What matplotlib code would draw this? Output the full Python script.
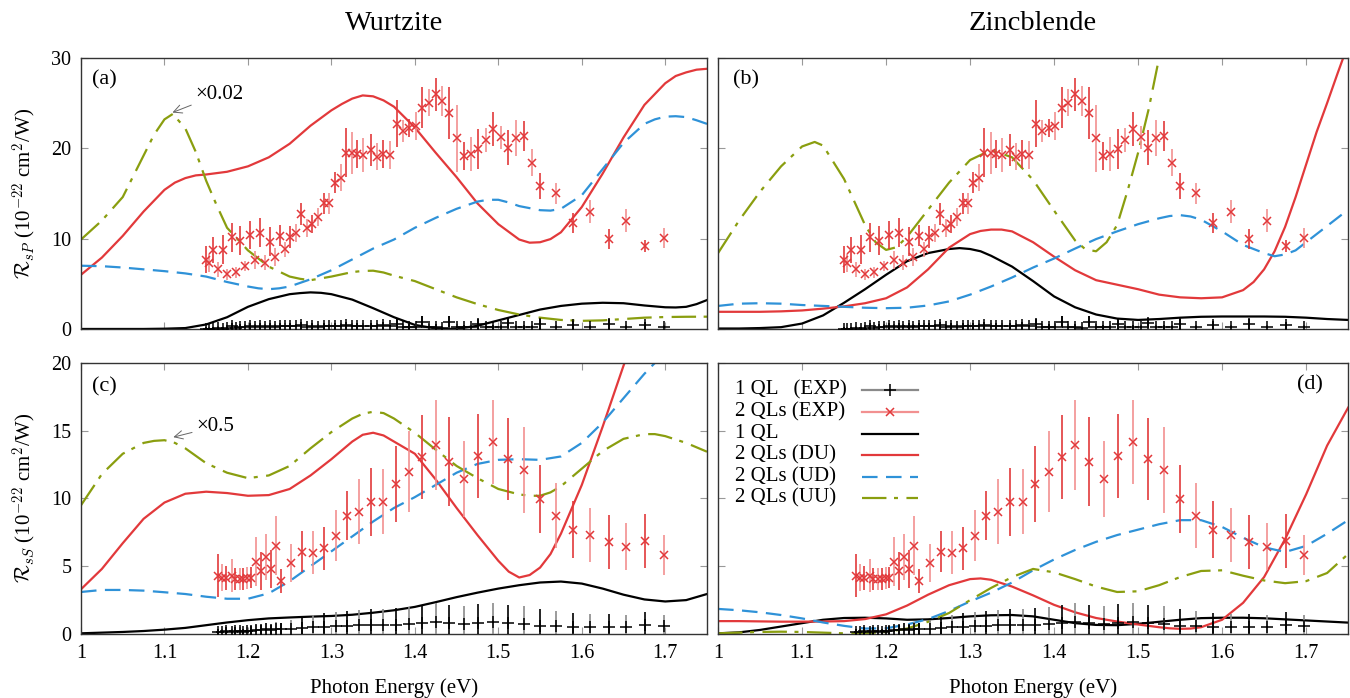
import numpy as np
import matplotlib
matplotlib.use("Agg")
import matplotlib.pyplot as plt
from matplotlib.lines import Line2D

plt.rcParams['font.family'] = ['Liberation Serif', 'DejaVu Serif']
plt.rcParams['mathtext.fontset'] = 'cm'

# ---------------- experimental data ----------------
x_exp_top = [1.1495, 1.153, 1.1586, 1.164, 1.170, 1.175, 1.181, 1.186, 1.191, 1.197,
             1.203, 1.209, 1.215, 1.220, 1.227, 1.232, 1.239, 1.245, 1.251, 1.258,
             1.264, 1.271, 1.277, 1.284, 1.291, 1.297, 1.304, 1.311, 1.317, 1.3245,
             1.331, 1.338, 1.347, 1.355, 1.362, 1.370, 1.378, 1.386, 1.3935, 1.401,
             1.409, 1.417, 1.425, 1.433, 1.441, 1.450, 1.4587, 1.467, 1.476, 1.485,
             1.494, 1.503, 1.512, 1.521, 1.531, 1.540, 1.550, 1.569, 1.589, 1.610,
             1.632, 1.653, 1.676, 1.698]
sp_2ql = [7.64, 7.3, 8.75, 6.6, 8.75, 6.05, 10.15, 6.27, 9.78, 6.97,
          10.4, 7.64, 10.66, 7.34, 9.67, 8.0, 10.33, 8.82, 10.15, 10.66,
          12.7, 11.15, 11.6, 12.37, 13.9, 13.9, 16.2, 16.75, 19.5, 19.5,
          19.37, 19.26, 19.8, 19.07, 19.37, 19.26, 22.7, 21.95, 22.2, 22.47,
          24.5, 25.05, 25.98, 25.24, 23.88, 21.1, 19.15, 19.37, 19.9, 20.9,
          22.1, 21.2, 20.07, 21.1, 21.37, 18.4, 15.83, 15.0, 11.77, 13.0,
          9.96, 12.0, 9.22, 10.1]
sp_2ql_err = [1.5, 1.0, 1.4, 0.8, 1.6, 0.6, 1.6, 0.6, 1.6, 0.6,
              1.6, 1.0, 1.6, 0.8, 1.6, 1.0, 1.2, 0.8, 1.2, 1.0,
              1.2, 1.0, 1.0, 1.0, 1.2, 1.2, 1.2, 1.5, 2.7, 2.3,
              1.5, 1.9, 1.75, 1.5, 1.5, 1.5, 2.6, 1.2, 1.0, 1.5,
              2.25, 1.5, 1.8, 1.7, 2.9, 3.7, 1.5, 1.9, 2.2, 1.3,
              1.9, 1.3, 1.9, 2.0, 1.7, 1.5, 1.4, 1.2, 1.1, 1.3,
              1.1, 1.3, 0.65, 1.1]
sp_1ql = [0.05, 0.0, 0.05, 0.1, 0.05, 0.1, 0.3, 0.1, 0.25, 0.2,
          0.3, 0.25, 0.3, 0.25, 0.35, 0.25, 0.3, 0.3, 0.35, 0.3,
          0.4, 0.25, 0.3, 0.25, 0.35, 0.3, 0.3, 0.35, 0.4, 0.3,
          0.35, 0.3, 0.35, 0.3, 0.4, 0.35, 0.55, 0.26, 0.26, 0.26,
          0.81, 0.26, 0.26, 0.07, 0.81, 0.26, 0.18, 0.18, 0.55, 0.18,
          0.18, 0.18, 0.66, 0.18, 0.18, 0.18, 0.55, 0.18, 0.44, 0.18,
          0.55, 0.18, 0.4, 0.18]
sp_1ql_err = [0.2, 0.2, 0.2, 0.25, 0.2, 0.25, 0.35, 0.25, 0.3, 0.3,
              0.35, 0.3, 0.35, 0.3, 0.35, 0.3, 0.35, 0.35, 0.35, 0.3,
              0.4, 0.3, 0.35, 0.3, 0.35, 0.3, 0.35, 0.35, 0.4, 0.35,
              0.35, 0.35, 0.35, 0.35, 0.4, 0.35, 0.5, 0.3, 0.3, 0.3,
              0.6, 0.3, 0.3, 0.3, 0.6, 0.3, 0.3, 0.3, 0.5, 0.3,
              0.3, 0.3, 0.5, 0.3, 0.3, 0.3, 0.5, 0.3, 0.4, 0.3,
              0.5, 0.3, 0.4, 0.3]

x_exp_bot = [1.1638, 1.1686, 1.1734, 1.1806, 1.1846, 1.190, 1.1946, 1.1994, 1.2038, 1.2094,
             1.2158, 1.2214, 1.2274, 1.2337, 1.2397, 1.2517, 1.2653, 1.2785, 1.2917, 1.3054,
             1.3185, 1.3333, 1.3477, 1.3624, 1.3776, 1.3935, 1.4091, 1.425, 1.4413, 1.459,
             1.476, 1.494, 1.512, 1.531, 1.550, 1.569, 1.589, 1.610, 1.632, 1.653,
             1.676, 1.698]
ss_2ql = [4.30, 4.16, 4.11, 4.30, 4.06, 4.06, 4.06, 4.11, 4.16, 5.34,
          4.65, 5.66, 4.77, 6.52, 3.93, 5.21, 6.07, 6.0, 6.32, 7.26,
          8.73, 9.03, 9.76, 9.76, 11.05, 11.98, 13.09, 13.95, 12.72, 11.44,
          13.16, 14.15, 12.92, 12.1, 9.94, 8.73, 7.68, 7.31, 6.81, 6.44,
          6.86, 5.83]
ss_2ql_err = [1.6, 1.0, 0.9, 1.2, 0.8, 0.8, 0.8, 0.8, 0.8, 1.8,
              1.4, 1.7, 1.4, 2.2, 0.9, 1.4, 1.5, 1.6, 1.6, 1.9,
              1.8, 2.4, 2.5, 2.4, 2.8, 3.0, 3.1, 3.3, 3.3, 2.8,
              3.1, 3.1, 3.0, 3.2, 2.5, 2.4, 2.1, 2.0, 2.0, 1.75,
              2.0, 1.5]
ss_1ql = [0.15, 0.15, 0.2, 0.15, 0.2, 0.2, 0.15, 0.2, 0.25, 0.3,
          0.3, 0.35, 0.3, 0.4, 0.35, 0.4, 0.45, 0.5, 0.55, 0.6,
          0.62, 0.65, 0.66, 0.68, 0.7, 0.72, 0.84, 0.91, 0.84, 0.77,
          0.84, 0.91, 0.84, 0.77, 0.61, 0.61, 0.52, 0.52, 0.52, 0.52,
          0.66, 0.56]
ss_1ql_err = [0.25, 0.25, 0.3, 0.25, 0.3, 0.3, 0.25, 0.3, 0.35, 0.4,
              0.4, 0.45, 0.4, 0.5, 0.45, 0.6, 0.8, 0.9, 1.0, 1.0,
              1.1, 1.1, 1.2, 1.2, 1.2, 1.25, 1.3, 1.35, 1.3, 1.3,
              1.35, 1.35, 1.3, 1.3, 1.2, 1.1, 1.0, 0.95, 0.95, 0.9,
              0.95, 0.85]

# ---------------- calculated curves ----------------
E = [1.000, 1.025, 1.050, 1.075, 1.100, 1.125, 1.150, 1.175, 1.200, 1.225,
     1.250, 1.275, 1.300, 1.325, 1.350, 1.375, 1.400, 1.425, 1.450, 1.475,
     1.500, 1.525, 1.550, 1.575, 1.600, 1.625, 1.650, 1.675, 1.700, 1.725, 1.750]

# (a) wurtzite, sP
a_1ql_x = [1.000, 1.025, 1.050, 1.075, 1.100, 1.125, 1.150, 1.175, 1.200, 1.225,
           1.250, 1.2625, 1.275, 1.2875, 1.300, 1.325, 1.350, 1.375, 1.400, 1.425,
           1.4375, 1.450, 1.475, 1.500, 1.525, 1.550, 1.575, 1.600, 1.625, 1.650,
           1.675, 1.700, 1.7125, 1.725, 1.7375, 1.750]
a_1ql = [0.0, 0.0, 0.0, 0.0, 0.03, 0.1, 0.5, 1.3, 2.45, 3.3,
         3.85, 3.97, 4.05, 4.0, 3.85, 3.25, 2.3, 1.3, 0.45, 0.05,
         0.0, 0.02, 0.35, 0.95, 1.55, 2.15, 2.55, 2.8, 2.9, 2.85,
         2.6, 2.4, 2.38, 2.45, 2.75, 3.2]
a_du_x = [1.000, 1.025, 1.050, 1.075, 1.100, 1.1125, 1.125, 1.1375, 1.150, 1.175,
          1.200, 1.225, 1.250, 1.275, 1.300, 1.3125, 1.325, 1.3375, 1.350, 1.3625,
          1.375, 1.400, 1.425, 1.450, 1.475, 1.500, 1.525, 1.5375, 1.550, 1.5625,
          1.575, 1.600, 1.625, 1.650, 1.675, 1.700, 1.7125, 1.725, 1.7375, 1.750]
a_du = [6.0, 7.9, 10.3, 13.0, 15.4, 16.2, 16.7, 17.0, 17.1, 17.4,
        18.0, 19.0, 20.5, 22.5, 24.2, 24.9, 25.5, 25.85, 25.75, 25.3,
        24.6, 22.3, 19.5, 16.8, 13.9, 11.6, 9.9, 9.55, 9.6, 9.95,
        10.7, 13.5, 17.2, 21.2, 24.8, 27.2, 28.0, 28.4, 28.7, 28.8]
a_ud_x = [1.000, 1.025, 1.050, 1.075, 1.100, 1.125, 1.150, 1.175, 1.200, 1.2125,
          1.225, 1.2375, 1.250, 1.275, 1.300, 1.325, 1.350, 1.375, 1.400, 1.425,
          1.450, 1.475, 1.4875, 1.500, 1.5125, 1.525, 1.550, 1.5625, 1.575, 1.600,
          1.625, 1.650, 1.675, 1.6875, 1.700, 1.7125, 1.725, 1.7375, 1.750]
a_ud = [7.0, 6.95, 6.8, 6.6, 6.4, 6.15, 5.8, 5.2, 4.7, 4.5,
        4.4, 4.5, 4.7, 5.5, 6.5, 7.7, 8.9, 9.9, 11.2, 12.3,
        13.3, 14.1, 14.3, 14.3, 14.0, 13.6, 13.15, 13.1, 13.3, 14.8,
        17.7, 20.6, 22.7, 23.2, 23.5, 23.55, 23.45, 23.1, 22.7]
a_uu_x = [1.000, 1.025, 1.050, 1.075, 1.0875, 1.100, 1.110, 1.125, 1.1375, 1.150,
          1.1625, 1.175, 1.200, 1.225, 1.250, 1.2625, 1.275, 1.300, 1.325, 1.3375,
          1.350, 1.3625, 1.375, 1.400, 1.425, 1.450, 1.475, 1.500, 1.525, 1.550,
          1.575, 1.600, 1.625, 1.650, 1.675, 1.700, 1.725, 1.750]
a_uu = [9.9, 12.0, 14.6, 19.2, 21.5, 23.2, 23.8, 22.2, 19.6, 16.4,
        13.7, 11.2, 8.7, 6.9, 5.8, 5.55, 5.4, 5.8, 6.3, 6.42,
        6.45, 6.25, 5.9, 5.3, 4.4, 3.5, 2.75, 2.1, 1.6, 1.25,
        1.0, 0.9, 0.95, 1.1, 1.25, 1.32, 1.35, 1.36]

# (b) zincblende, sP
b_1ql_x = [1.000, 1.025, 1.050, 1.075, 1.100, 1.125, 1.150, 1.175, 1.200, 1.225,
           1.250, 1.275, 1.2875, 1.300, 1.3125, 1.325, 1.350, 1.375, 1.400, 1.425,
           1.450, 1.475, 1.500, 1.525, 1.550, 1.575, 1.600, 1.625, 1.650, 1.675,
           1.700, 1.725, 1.750]
b_1ql = [0.05, 0.05, 0.1, 0.2, 0.6, 1.5, 2.9, 4.4, 6.0, 7.5,
         8.4, 8.85, 8.95, 8.85, 8.6, 8.1, 6.9, 5.3, 3.6, 2.4,
         1.6, 1.15, 1.0, 1.1, 1.25, 1.35, 1.38, 1.38, 1.38, 1.35,
         1.25, 1.1, 1.0]
b_du_x = [1.000, 1.025, 1.050, 1.075, 1.100, 1.125, 1.150, 1.175, 1.200, 1.225,
          1.250, 1.2625, 1.275, 1.300, 1.3125, 1.325, 1.3375, 1.350, 1.375, 1.400,
          1.425, 1.450, 1.475, 1.500, 1.525, 1.550, 1.575, 1.600, 1.625, 1.6375,
          1.650, 1.6625, 1.675, 1.6875, 1.700, 1.7125, 1.725, 1.7375, 1.750]
b_du = [1.9, 1.9, 1.9, 1.95, 2.05, 2.25, 2.5, 2.85, 3.4, 4.6,
        6.6, 7.8, 9.0, 10.5, 10.85, 11.0, 11.0, 10.8, 9.6, 8.0,
        6.5, 5.4, 4.9, 4.4, 3.8, 3.5, 3.4, 3.5, 4.3, 5.2,
        6.6, 8.6, 11.3, 14.6, 18.2, 21.8, 25.0, 28.3, 31.5]
b_ud_x = [1.000, 1.025, 1.050, 1.075, 1.100, 1.125, 1.150, 1.175, 1.200, 1.225,
          1.250, 1.275, 1.300, 1.325, 1.350, 1.375, 1.400, 1.425, 1.450, 1.475,
          1.500, 1.525, 1.5375, 1.550, 1.5625, 1.575, 1.600, 1.625, 1.650, 1.6625,
          1.675, 1.6875, 1.700, 1.725, 1.750]
b_ud = [2.55, 2.8, 2.85, 2.8, 2.65, 2.55, 2.45, 2.35, 2.3, 2.35,
        2.6, 3.05, 3.8, 4.7, 5.7, 6.8, 7.8, 8.9, 9.95, 10.8,
        11.6, 12.25, 12.5, 12.6, 12.45, 12.1, 10.8, 9.3, 8.4, 8.05,
        8.25, 8.7, 9.6, 11.4, 13.2]
b_uu_x = [1.000, 1.025, 1.050, 1.075, 1.100, 1.115, 1.125, 1.150, 1.175, 1.1875,
          1.200, 1.2125, 1.225, 1.250, 1.275, 1.300, 1.325, 1.350, 1.375, 1.400,
          1.425, 1.4375, 1.450, 1.4625, 1.475, 1.4875, 1.500, 1.5125, 1.525, 1.540]
b_uu = [8.4, 12.0, 15.2, 18.0, 20.2, 20.7, 20.3, 16.6, 11.5, 9.6,
        8.75, 9.05, 10.2, 13.2, 16.2, 18.7, 19.8, 19.0, 16.5, 13.1,
        9.8, 8.8, 8.6, 9.6, 11.5, 15.3, 19.5, 24.3, 30.0, 37.0]

# (c) wurtzite, sS
c_1ql = [0.05, 0.1, 0.15, 0.22, 0.32, 0.45, 0.65, 0.85, 1.02, 1.15,
         1.22, 1.28, 1.33, 1.42, 1.57, 1.75, 2.0, 2.35, 2.72, 3.05,
         3.35, 3.6, 3.8, 3.87, 3.72, 3.35, 2.9, 2.55, 2.4, 2.5, 2.95]
c_du_x = [1.000, 1.025, 1.050, 1.075, 1.100, 1.125, 1.150, 1.175, 1.200, 1.225,
          1.250, 1.275, 1.300, 1.325, 1.3375, 1.350, 1.3625, 1.375, 1.400, 1.425,
          1.450, 1.475, 1.500, 1.5125, 1.525, 1.5375, 1.550, 1.5625, 1.575, 1.600,
          1.625, 1.650, 1.675, 1.700]
c_du = [3.3, 4.8, 6.7, 8.5, 9.7, 10.35, 10.5, 10.4, 10.2, 10.25,
        10.7, 11.7, 12.9, 14.2, 14.7, 14.85, 14.65, 14.2, 13.3, 11.4,
        9.3, 7.3, 5.4, 4.6, 4.17, 4.35, 4.9, 5.9, 7.4, 11.0,
        15.3, 19.8, 24.0, 28.0]
c_ud = [3.1, 3.25, 3.25, 3.2, 3.08, 2.95, 2.75, 2.6, 2.6, 3.0,
        3.9, 5.0, 6.1, 7.2, 8.3, 9.3, 10.1, 11.0, 11.9, 12.55,
        12.85, 12.9, 12.85, 13.1, 14.1, 15.6, 17.4, 19.2, 20.8, 22.4, 24.0]
c_uu_x = [1.000, 1.025, 1.050, 1.075, 1.0875, 1.100, 1.1125, 1.125, 1.150, 1.175,
          1.200, 1.225, 1.250, 1.275, 1.300, 1.325, 1.3375, 1.350, 1.3625, 1.375,
          1.400, 1.425, 1.450, 1.475, 1.500, 1.525, 1.5375, 1.550, 1.5625, 1.575,
          1.600, 1.625, 1.650, 1.675, 1.6875, 1.700, 1.725, 1.750]
c_uu = [9.5, 11.8, 13.3, 14.1, 14.25, 14.3, 14.1, 13.7, 12.6, 11.9,
        11.5, 11.7, 12.4, 13.7, 14.9, 15.9, 16.25, 16.4, 16.3, 15.9,
        14.85, 13.6, 12.4, 11.5, 10.7, 10.3, 10.2, 10.2, 10.45, 10.9,
        12.2, 13.5, 14.4, 14.75, 14.75, 14.6, 14.1, 13.45]

# (d) zincblende, sS
d_1ql = [0.05, 0.12, 0.3, 0.55, 0.8, 1.05, 1.18, 1.2, 1.15, 1.05,
         1.08, 1.18, 1.3, 1.38, 1.4, 1.3, 1.05, 0.8, 0.67, 0.65,
         0.75, 0.9, 1.05, 1.17, 1.2, 1.2, 1.16, 1.08, 1.0, 0.92, 0.84]
d_du_x = [1.000, 1.025, 1.050, 1.075, 1.100, 1.125, 1.150, 1.175, 1.200, 1.225,
          1.250, 1.275, 1.300, 1.3125, 1.325, 1.350, 1.375, 1.400, 1.425, 1.450,
          1.475, 1.500, 1.525, 1.5375, 1.550, 1.5625, 1.575, 1.600, 1.625, 1.650,
          1.675, 1.700, 1.725, 1.750]
d_du = [0.95, 0.95, 0.93, 0.91, 0.91, 0.92, 0.95, 1.1, 1.45, 2.1,
        2.9, 3.6, 4.05, 4.1, 4.0, 3.5, 2.85, 2.15, 1.6, 1.18,
        0.92, 0.7, 0.5, 0.42, 0.38, 0.4, 0.5, 1.05, 2.3, 4.2,
        7.0, 10.3, 13.9, 16.7]
d_ud = [1.85, 1.75, 1.6, 1.4, 1.15, 0.85, 0.6, 0.4, 0.42, 0.7,
        1.1, 1.7, 2.4, 3.05, 3.8, 4.7, 5.5, 6.2, 6.8, 7.3,
        7.7, 8.1, 8.4, 8.4, 7.9, 7.1, 6.4, 6.05, 6.5, 7.4, 8.4]
d_uu = [0.05, 0.1, 0.15, 0.17, 0.15, 0.1, 0.05, 0.05, 0.15, 0.4,
        0.9, 1.55, 2.5, 3.4, 4.2, 4.8, 4.55, 4.05, 3.5, 3.1,
        3.15, 3.6, 4.2, 4.65, 4.7, 4.3, 3.95, 3.75, 3.9, 4.5, 5.9]

xticks = [1.0, 1.1, 1.2, 1.3, 1.4, 1.5, 1.6, 1.7]
xtick_labels = ['1', '1.1', '1.2', '1.3', '1.4', '1.5', '1.6', '1.7']
legend_labels = ['1 QL   (EXP)', '2 QLs (EXP)', '1 QL', '2 QLs (DU)', '2 QLs (UD)', '2 QLs (UU)']

# ---------------- styles ----------------
RED = '#e2393b'
RED_L = '#f29090'
BLUE = '#2f92d8'
OLIVE = '#8a9e0f'
GRAY = '#8a8a8a'
LW = 1.6
DASH_UD = [7, 3.8]
DASH_UU = [11, 3.4, 1.8, 3.8]


def draw_exp(ax, x, y, err, color, color_l, marker, ms):
    cols = [color if i % 2 == 0 else color_l for i in range(len(x))]
    lo = [v - e for v, e in zip(y, err)]
    hi = [v + e for v, e in zip(y, err)]
    ax.vlines(x, lo, hi, colors=cols, lw=1.2, zorder=3)
    ax.plot(x, y, ls='none', marker=marker, ms=ms, mew=1.1, color=color, zorder=4)


def draw_panel(ax, e1, y1, e2, y2, e3, y3, e4, y4):
    ax.plot(e1, y1, color='black', lw=LW, zorder=2)
    ax.plot(e2, y2, color=RED, lw=LW, zorder=2)
    ax.plot(e3, y3, color=BLUE, lw=LW, dashes=DASH_UD, zorder=2)
    ax.plot(e4, y4, color=OLIVE, lw=LW, dashes=DASH_UU, zorder=2)


def style(ax, ymax, yticks, left_labels, bottom_labels):
    ax.set_xlim(1.0, 1.75)
    ax.set_ylim(0, ymax)
    ax.set_xticks(xticks)
    ax.set_yticks(yticks)
    ax.tick_params(direction='in', length=5, color='#999999', top=True, right=True,
                   labelsize=14.5, pad=7)
    for s in ax.spines.values():
        s.set_linewidth(1.0)
        s.set_color('#333333')
    if bottom_labels:
        ax.set_xticklabels(xtick_labels)
    else:
        ax.set_xticklabels([])
    if not left_labels:
        ax.set_yticklabels([])


fig = plt.figure(figsize=(13.5, 6.98), dpi=100)
L = [0.060, 0.4637]
R = [0.5319, 0.4667]
T = [0.5287, 0.3883]
B = [0.0917, 0.3883]

axa = fig.add_axes([L[0], T[0], L[1], T[1]])
axb = fig.add_axes([R[0], T[0], R[1], T[1]])
axc = fig.add_axes([L[0], B[0], L[1], B[1]])
axd = fig.add_axes([R[0], B[0], R[1], B[1]])

draw_panel(axa, a_1ql_x, a_1ql, a_du_x, a_du, a_ud_x, a_ud, a_uu_x, a_uu)
draw_panel(axb, b_1ql_x, b_1ql, b_du_x, b_du, b_ud_x, b_ud, b_uu_x, b_uu)
draw_panel(axc, E, c_1ql, c_du_x, c_du, E, c_ud, c_uu_x, c_uu)
draw_panel(axd, E, d_1ql, d_du_x, d_du, E, d_ud, E, d_uu)

for ax in (axa, axb):
    draw_exp(ax, x_exp_top, sp_1ql, sp_1ql_err, 'black', GRAY, '+', 9)
    draw_exp(ax, x_exp_top, sp_2ql, sp_2ql_err, RED, RED_L, 'x', 6)
for ax in (axc, axd):
    draw_exp(ax, x_exp_bot, ss_1ql, ss_1ql_err, 'black', GRAY, '+', 9)
    draw_exp(ax, x_exp_bot, ss_2ql, ss_2ql_err, RED, RED_L, 'x', 6)

style(axa, 30, [0, 10, 20, 30], True, False)
style(axb, 30, [0, 10, 20, 30], False, False)
style(axc, 20, [0, 5, 10, 15, 20], True, True)
style(axd, 20, [0, 5, 10, 15, 20], False, True)

# panel labels
axa.text(0.017, 0.919, '(a)', transform=axa.transAxes, fontsize=16, va='center')
axb.text(0.024, 0.919, '(b)', transform=axb.transAxes, fontsize=16, va='center')
axc.text(0.017, 0.912, '(c)', transform=axc.transAxes, fontsize=16, va='center')
axd.text(0.96, 0.919, '(d)', transform=axd.transAxes, fontsize=16, va='center', ha='right')

# scale annotations
arrow = dict(arrowstyle='->', color='#666666', lw=0.7, shrinkA=1, shrinkB=1)
axa.annotate('×0.02', xy=(1.108, 23.9), xytext=(1.137, 26.0), fontsize=15,
             va='center', arrowprops=arrow)
axc.annotate('×0.5', xy=(1.109, 14.5), xytext=(1.138, 15.3), fontsize=15,
             va='center', arrowprops=arrow)

# legend (gnuplot style: text left-aligned, sample to the right)
key_styles = [
    dict(color=GRAY, marker='+', ms=9, mec='black'),
    dict(color=RED_L, marker='x', ms=6, mec=RED),
    dict(color='black'),
    dict(color=RED),
    dict(color=BLUE, dashes=DASH_UD),
    dict(color=OLIVE, dashes=DASH_UU),
]
row_y = [0.900, 0.819, 0.738, 0.661, 0.579, 0.502]
for lab, st, yy in zip(legend_labels, key_styles, row_y):
    axd.text(0.027, yy, lab, transform=axd.transAxes, fontsize=15, va='center', ha='left')
    st = dict(st)
    mk = st.pop('marker', None)
    ms = st.pop('ms', None)
    mec = st.pop('mec', None)
    axd.add_line(Line2D([0.2286, 0.3175], [yy, yy], transform=axd.transAxes, lw=LW, **st))
    if mk:
        axd.add_line(Line2D([0.273], [yy], transform=axd.transAxes, ls='none', marker=mk,
                            ms=ms, mew=1.1, color=mec))

# titles and axis labels
fig.text(394 / 1350, 1 - 24 / 698, 'Wurtzite', ha='center', va='center', fontsize=20.5)
fig.text(1033 / 1350, 1 - 24 / 698, 'Zincblende', ha='center', va='center', fontsize=20.5)
fig.text(394 / 1350, 1 - 688 / 698, 'Photon Energy (eV)', ha='center', va='center', fontsize=15)
fig.text(1033 / 1350, 1 - 688 / 698, 'Photon Energy (eV)', ha='center', va='center', fontsize=15)
fig.text(25 / 1350, 1 - 193 / 698, r'$\mathcal{R}_{sP}$ (10$^{-22}$ cm$^{2}$/W)',
         rotation=90, ha='center', va='center', fontsize=15)
fig.text(25 / 1350, 1 - 498 / 698, r'$\mathcal{R}_{sS}$ (10$^{-22}$ cm$^{2}$/W)',
         rotation=90, ha='center', va='center', fontsize=15)

fig.savefig('out.png', dpi=100)
